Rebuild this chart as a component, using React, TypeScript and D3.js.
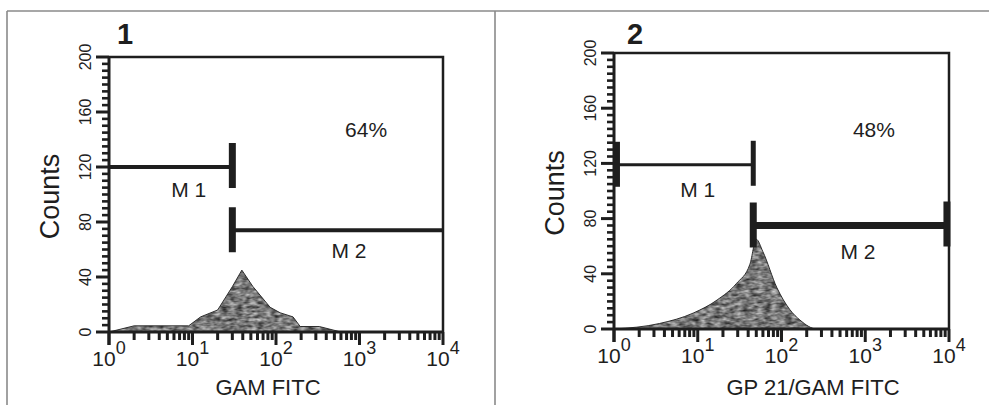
import * as d3 from "d3";

// flow cytometry histograms, two panels side by side
const panelIds = ["1", "2"];
const xTitles = ["GAM FITC", "GP 21/GAM FITC"];
const yTitle = "Counts";
const percentLabels = ["64%", "48%"];
const percentPos = [[1200, 142], [1270, 139]]; // [fluorescence, counts]

const hist1X = [1, 2, 9, 12.5, 20, 30, 39, 53, 85, 112, 160, 195, 330, 600, 10000];
const hist1Y = [0, 4.5, 4.5, 11, 16, 33, 45, 33, 18, 14, 11, 4, 4, 0, 0];
const hist2X = [1, 3.5, 8.8, 17, 29, 42, 50, 60, 88, 126, 166, 265, 10000];
const hist2Y = [0, 4, 11.5, 21, 33, 47, 65, 56, 30, 14, 6.5, 0, 0];

const markerNames = ["M 1", "M 2"];
const marker1From = [1, 30];
const marker1To = [30, 10000];
const marker1Level = [120, 74];
const marker1LabelPos = [[9, 98], [750, 54]];
const marker2From = [1.1, 46];
const marker2To = [46, 9450];
const marker2Level = [119, 75];
const marker2LabelPos = [[10, 95.5], [820, 51]];

const yTickValues = d3.range(0, 201, 5);
const yMajor = [0, 40, 80, 120, 160, 200];
const decades = [0, 1, 2, 3, 4];

const FONT = "'Liberation Sans', Arial, sans-serif";
const INK = "#1e1e1e";

type Layout = { left: number; right: number; top: number; bottom: number; titleX: number; numX: number };
const layouts: Layout[] = [
  { left: 109, right: 443, top: 57, bottom: 332, titleX: 268, numX: 125 },
  { left: 614, right: 949, top: 53, bottom: 329, titleX: 813, numX: 635 },
];
// marker bar styles per panel: [lineWidth, barWidth, startBar, endBar]
const markerStyle: [number, number, boolean, boolean][][] = [
  [[4, 7, false, true], [4, 7, true, false]],
  [[3, 5, true, true], [7, 7, true, true]],
];

function Panel({ idx }: { idx: number }) {
  const L = layouts[idx];
  const x = d3.scaleLog().domain([1, 1e4]).range([L.left, L.right]);
  const y = d3.scaleLinear().domain([0, 200]).range([L.bottom, L.top]);
  const hx = idx === 0 ? hist1X : hist2X;
  const hy = idx === 0 ? hist1Y : hist2Y;
  const pts = hx.map((v, i) => [v, hy[i]] as [number, number]);
  const area = d3.area<[number, number]>()
    .x(d => x(d[0]))
    .y0(y(0))
    .y1(d => y(d[1]))
    .curve(idx === 0 ? d3.curveLinear : d3.curveMonotoneX);
  const line = d3.line<[number, number]>()
    .x(d => x(d[0]))
    .y(d => y(d[1]))
    .curve(idx === 0 ? d3.curveLinear : d3.curveMonotoneX);

  const mFrom = idx === 0 ? marker1From : marker2From;
  const mTo = idx === 0 ? marker1To : marker2To;
  const mLevel = idx === 0 ? marker1Level : marker2Level;
  const mLab = idx === 0 ? marker1LabelPos : marker2LabelPos;

  const xTicks: { v: number; major: boolean }[] = [];
  decades.forEach(d => {
    if (d === 4) { xTicks.push({ v: 1e4, major: true }); return; }
    for (let m = 1; m <= 9; m++) xTicks.push({ v: m * Math.pow(10, d), major: m === 1 });
  });

  const cy = (L.top + L.bottom) / 2;
  return (
    <g>
      <text x={L.numX} y={44} textAnchor="middle" fontSize={29} fontWeight="bold" fill={INK} fontFamily={FONT}>
        {panelIds[idx]}
      </text>
      <path d={area(pts) || ""} fill="#777" filter="url(#grain)" />
      <path d={line(pts) || ""} fill="none" stroke={INK} strokeWidth={0.9} />

      {/* frame */}
      <path d={`M${L.left},${L.top}H${L.right}V${L.bottom}`} fill="none" stroke={INK} strokeWidth={2.5} />
      <line x1={L.left} x2={L.left} y1={L.top} y2={L.bottom + 13} stroke={INK} strokeWidth={3} />
      <line x1={L.left} x2={L.right} y1={L.bottom} y2={L.bottom} stroke={INK} strokeWidth={3} />

      {yTickValues.map(v => {
        const major = yMajor.includes(v);
        return (
          <line key={"y" + v} x1={L.left - (major ? 13 : 7)} x2={L.left} y1={y(v)} y2={y(v)}
            stroke={INK} strokeWidth={major ? 3 : 2.6} />
        );
      })}
      {yMajor.map(v => (
        <text key={"yl" + v} transform={`translate(${L.left - 18},${y(v)}) rotate(-90)`} textAnchor="middle"
          fontSize={16} fill={INK} fontFamily={FONT}>{v}</text>
      ))}
      {xTicks.map(t => (
        <line key={"x" + t.v} x1={x(t.v)} x2={x(t.v)} y1={L.bottom} y2={L.bottom + (t.major ? 13 : 8)}
          stroke={INK} strokeWidth={3} />
      ))}
      {decades.map(d => (
        <text key={"xl" + d} x={x(Math.pow(10, d))} y={L.bottom + 34} textAnchor="middle" fontSize={21}
          fill={INK} fontFamily={FONT}>
          10<tspan dy={-12} fontSize={18}>{d}</tspan>
        </text>
      ))}

      <text transform={`translate(${L.left - 50},${cy + 2}) rotate(-90)`} textAnchor="middle" fontSize={27}
        fill={INK} fontFamily={FONT}>{yTitle}</text>
      <text x={L.titleX} y={395} textAnchor="middle" fontSize={22} fill={INK} fontFamily={FONT}>{xTitles[idx]}</text>

      {markerNames.map((name, i) => {
        const [lw, bw, sb, eb] = markerStyle[idx][i];
        const yy = y(mLevel[i]);
        return (
          <g key={name}>
            <line x1={x(mFrom[i])} x2={x(mTo[i])} y1={yy} y2={yy} stroke={INK} strokeWidth={lw} />
            {sb && <line x1={x(mFrom[i])} x2={x(mFrom[i])} y1={yy - 23} y2={yy + 22} stroke={INK} strokeWidth={bw} />}
            {eb && <line x1={x(mTo[i])} x2={x(mTo[i])} y1={yy - 24} y2={yy + 21} stroke={INK} strokeWidth={bw} />}
            <text x={x(mLab[i][0])} y={y(mLab[i][1])} textAnchor="middle" fontSize={21} fill={INK}
              fontFamily={FONT}>{name}</text>
          </g>
        );
      })}
      <text x={x(percentPos[idx][0])} y={y(percentPos[idx][1])} textAnchor="middle" fontSize={21} fill={INK}
        fontFamily={FONT}>{percentLabels[idx]}</text>
    </g>
  );
}

export default function App() {
  return (
    <svg width={989} height={405} style={{ position: "fixed", left: 0, top: 0, background: "#fff" }}>
      <defs>
        <filter id="grain" x="0" y="0" width="1" height="1" colorInterpolationFilters="sRGB">
          <feTurbulence type="fractalNoise" baseFrequency="0.14 0.32" numOctaves={2} seed={4} result="n" />
          <feColorMatrix in="n" type="matrix"
            values="0.9 0 0 0 0.02  0.9 0 0 0 0.02  0.9 0 0 0 0.02  0 0 0 0 1" result="g" />
          <feComposite in="g" in2="SourceGraphic" operator="in" />
        </filter>
      </defs>
      <rect width={989} height={405} fill="#fff" />
      <g stroke="#8a8a8a" strokeWidth={1.6}>
        <line x1={7} x2={989} y1={11} y2={11} />
        <line x1={7} x2={7} y1={11} y2={405} />
        <line x1={495} x2={495} y1={11} y2={405} />
      </g>
      {panelIds.map((_, i) => <Panel key={i} idx={i} />)}
    </svg>
  );
}
